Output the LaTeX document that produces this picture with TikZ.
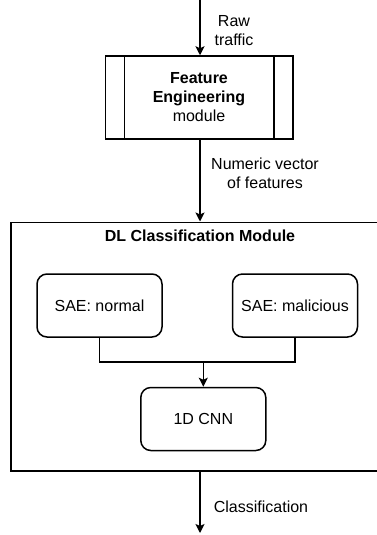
\documentclass[tikz,border=0pt]{standalone}
\usepackage{fontspec}
\setmainfont{Liberation Sans}
\usetikzlibrary{arrows.meta,positioning,calc}
\begin{document}
\begin{tikzpicture}[x=1pt,y=-1pt,
  line width=1.5pt,
  font=\fontsize{16}{19}\selectfont,
  arr/.style={-{Stealth[length=9pt,width=9pt,inset=2pt]}},
  rbox/.style={draw,rounded corners=10pt,minimum width=125pt,minimum height=63pt,inner sep=0pt},
  lbl/.style={align=center,inner sep=0pt}]
\useasboundingbox (0,0) rectangle (377,535);
\clip (0,0) rectangle (377,535);
% feature engineering box
\node[draw,minimum width=187.5pt,minimum height=83pt,inner sep=0pt,align=center] (fe) at (199,97.5) {};
\draw (124.3,56) -- (124.3,139) (274,56) -- (274,139);
\node[lbl] (fet) at (199,97.5) {\textbf{Feature}\\\textbf{Engineering}\\module};
\coordinate (top) at (200,0);
\draw[arr] (top) -- (fe.north -| top);
\node[lbl] (raw) at (234,31) {Raw\\traffic};
% big module box
\node[draw,minimum width=378pt,minimum height=248.5pt,inner sep=0pt] (dl) at (200,346.5) {};
\node[lbl,font=\fontsize{16}{19}\selectfont\bfseries] (dlt) at (200,236) {DL Classification Module};
\draw[arr] (fe.south -| top) -- (dl.north -| top);
\node[lbl] (num) at (265,173.5) {Numeric vector\\of features};
% inner boxes
\node[rbox] (sn) at (99.5,305.5) {SAE: normal};
\node[rbox] (sm) at (295,305.5) {SAE: malicious};
\node[rbox] (cnn) at (203.3,419) {1D CNN};
\coordinate (j) at (203.3,362);
\draw (sn.south) |- (j) -| (sm.south);
\draw[arr] (j) -- (cnn.north);
% output
\coordinate (bot) at (200,533);
\draw[arr] (dl.south -| bot) -- (bot);
\node[lbl] (cls) at (261,506.5) {Classification};
\end{tikzpicture}
\end{document}
